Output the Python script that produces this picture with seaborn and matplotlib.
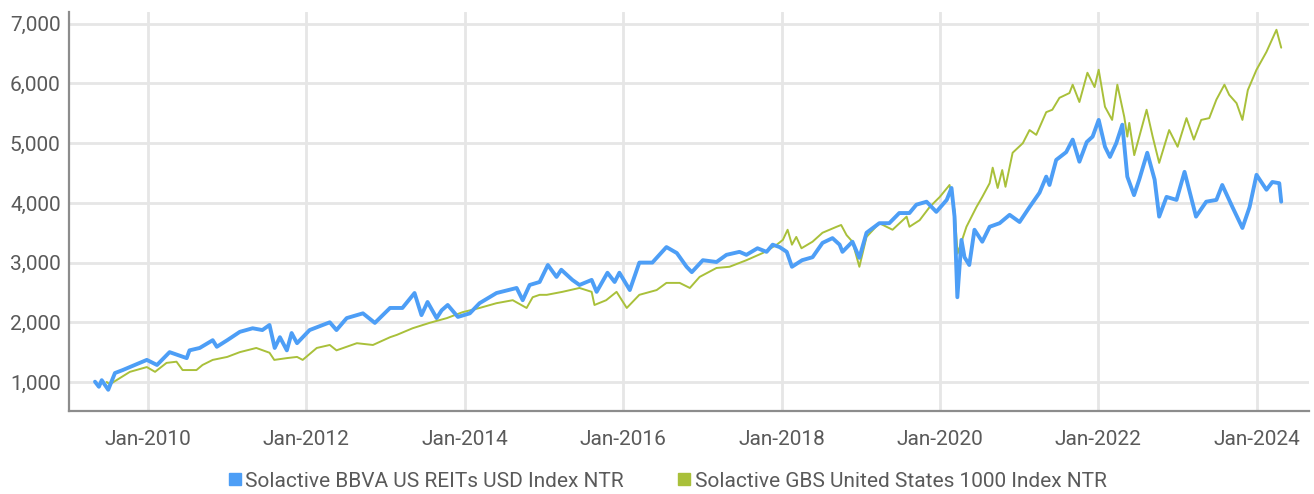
import matplotlib
matplotlib.use("Agg")
import matplotlib.pyplot as plt
import matplotlib.dates as mdates
from matplotlib.lines import Line2D
from matplotlib import font_manager as fm
import pandas as pd
import seaborn as sns

# ---- data -------------------------------------------------------------
reit_dates = [
    "2009-05-01", "2009-05-19", "2009-06-01", "2009-07-01", "2009-08-01", "2009-09-06",
    "2009-12-26", "2010-02-11", "2010-04-10", "2010-06-28", "2010-07-11", "2010-08-27",
    "2010-10-26", "2010-11-14", "2011-01-01", "2011-02-28", "2011-04-28", "2011-06-12",
    "2011-07-15", "2011-08-08", "2011-09-01", "2011-10-03", "2011-10-25", "2011-11-19",
    "2012-01-16", "2012-04-18", "2012-05-19", "2012-07-05", "2012-09-18", "2012-11-12",
    "2013-01-21", "2013-03-19", "2013-05-14", "2013-06-15", "2013-07-13", "2013-08-24",
    "2013-09-16", "2013-10-14", "2013-11-30", "2014-01-24", "2014-03-10", "2014-05-27",
    "2014-08-28", "2014-09-25", "2014-10-27", "2014-12-12", "2015-01-19", "2015-02-28",
    "2015-03-22", "2015-05-12", "2015-06-14", "2015-08-09", "2015-09-01", "2015-10-21",
    "2015-11-23", "2015-12-15", "2016-02-01", "2016-03-16", "2016-05-15", "2016-07-19",
    "2016-09-05", "2016-10-20", "2016-11-13", "2017-01-03", "2017-03-07", "2017-04-22",
    "2017-06-21", "2017-07-23", "2017-09-12", "2017-10-24", "2017-11-21", "2017-12-23",
    "2018-01-25", "2018-02-18", "2018-04-06", "2018-05-24", "2018-07-09", "2018-08-24",
    "2018-09-26", "2018-10-09", "2018-11-24", "2018-12-26", "2019-01-28", "2019-03-28",
    "2019-05-13", "2019-06-28", "2019-08-14", "2019-09-15", "2019-11-01", "2019-12-16",
    "2020-02-02", "2020-02-24", "2020-03-09", "2020-03-22", "2020-04-10", "2020-04-24",
    "2020-05-16", "2020-06-09", "2020-07-15", "2020-08-18", "2020-10-03", "2020-11-18",
    "2021-01-03", "2021-02-18", "2021-04-05", "2021-05-06", "2021-05-21", "2021-06-21",
    "2021-08-06", "2021-09-05", "2021-10-06", "2021-11-09", "2021-12-06", "2022-01-03",
    "2022-02-01", "2022-02-24", "2022-03-25", "2022-04-22", "2022-05-15", "2022-06-15",
    "2022-07-09", "2022-08-15", "2022-09-18", "2022-10-09", "2022-11-12", "2022-12-28",
    "2023-02-03", "2023-03-28", "2023-05-14", "2023-06-30", "2023-07-27", "2023-09-12",
    "2023-10-28", "2023-11-30", "2024-01-01", "2024-02-16", "2024-03-14", "2024-04-15",
    "2024-04-24",
]
reit_values = [
    1005, 920, 1030, 870, 1150, 1200,
    1370, 1285, 1500, 1400, 1530, 1570,
    1700, 1590, 1700, 1840, 1900, 1870,
    1955, 1570, 1750, 1530, 1820, 1650,
    1870, 2000, 1870, 2070, 2150, 1990,
    2240, 2240, 2490, 2120, 2340, 2070,
    2200, 2290, 2090, 2150, 2320, 2490,
    2575, 2370, 2625, 2675, 2960, 2760,
    2880, 2710, 2625, 2710, 2510, 2830,
    2675, 2830, 2540, 3000, 3000, 3260,
    3160, 2930, 2840, 3040, 3010, 3130,
    3180, 3130, 3240, 3180, 3300, 3260,
    3180, 2930, 3040, 3090, 3330, 3410,
    3300, 3180, 3350, 3080, 3500, 3660,
    3660, 3830, 3830, 3970, 4020, 3850,
    4050, 4250, 3770, 2420, 3380, 3090,
    2960, 3550, 3350, 3600, 3660, 3800,
    3680, 3930, 4170, 4440, 4300, 4720,
    4850, 5060, 4690, 5020, 5110, 5390,
    4940, 4770, 5000, 5310, 4440, 4130,
    4390, 4840, 4390, 3770, 4100, 4050,
    4520, 3770, 4020, 4050, 4300, 3930,
    3580, 3930, 4470, 4220, 4350, 4330,
    4020,
]

gbs_dates = [
    "2009-06-24", "2009-07-08", "2009-10-09", "2009-12-26", "2010-02-02", "2010-03-27",
    "2010-05-12", "2010-06-09", "2010-08-12", "2010-09-09", "2010-10-26", "2011-01-01",
    "2011-02-28", "2011-05-15", "2011-07-15", "2011-08-06", "2011-10-03", "2011-11-19",
    "2011-12-15", "2012-02-18", "2012-04-18", "2012-05-19", "2012-08-21", "2012-11-03",
    "2013-01-21", "2013-02-22", "2013-05-05", "2013-07-22", "2013-10-10", "2013-12-22",
    "2014-03-10", "2014-05-27", "2014-08-10", "2014-10-13", "2014-11-10", "2014-12-12",
    "2015-01-14", "2015-03-27", "2015-06-14", "2015-08-09", "2015-08-22", "2015-10-15",
    "2015-12-02", "2016-01-18", "2016-03-16", "2016-06-04", "2016-07-19", "2016-09-18",
    "2016-11-04", "2016-12-19", "2017-03-07", "2017-05-06", "2017-07-23", "2017-10-06",
    "2017-12-10", "2018-01-07", "2018-01-29", "2018-02-18", "2018-03-10", "2018-04-03",
    "2018-05-24", "2018-07-09", "2018-09-12", "2018-10-03", "2018-10-28", "2018-11-24",
    "2018-12-26", "2019-01-28", "2019-03-28", "2019-05-28", "2019-08-01", "2019-08-14",
    "2019-09-30", "2019-11-15", "2020-01-01", "2020-02-15", "2020-03-09", "2020-03-23",
    "2020-05-03", "2020-06-18", "2020-07-15", "2020-08-18", "2020-09-01", "2020-09-24",
    "2020-10-15", "2020-10-30", "2020-12-02", "2021-01-18", "2021-02-18", "2021-03-21",
    "2021-05-06", "2021-06-03", "2021-07-06", "2021-08-21", "2021-09-05", "2021-10-06",
    "2021-11-12", "2021-12-15", "2022-01-03", "2022-02-01", "2022-03-06", "2022-03-30",
    "2022-05-01", "2022-05-15", "2022-05-24", "2022-06-16", "2022-08-12", "2022-09-09",
    "2022-10-09", "2022-11-24", "2023-01-02", "2023-02-12", "2023-03-18", "2023-04-21",
    "2023-05-28", "2023-06-30", "2023-08-06", "2023-08-28", "2023-10-01", "2023-10-28",
    "2023-11-22", "2024-01-01", "2024-02-16", "2024-04-02", "2024-04-24",
]
gbs_values = [
    1000, 960, 1170, 1250, 1170, 1320,
    1340, 1200, 1200, 1285, 1370, 1420,
    1500, 1570, 1490, 1370, 1400, 1420,
    1370, 1570, 1620, 1530, 1650, 1620,
    1750, 1790, 1900, 1990, 2070, 2170,
    2240, 2320, 2370, 2240, 2420, 2460,
    2460, 2510, 2575, 2510, 2290, 2370,
    2510, 2240, 2460, 2540, 2660, 2660,
    2575, 2760, 2910, 2930, 3040, 3160,
    3300, 3380, 3550, 3300, 3430, 3240,
    3350, 3500, 3600, 3630, 3460, 3350,
    2930, 3430, 3660, 3550, 3770, 3600,
    3710, 3930, 4100, 4300, 3880, 3150,
    3600, 3930, 4100, 4330, 4590, 4250,
    4550, 4270, 4840, 5000, 5220, 5140,
    5520, 5560, 5760, 5840, 5980, 5690,
    6180, 5940, 6230, 5610, 5390, 5980,
    5440, 5110, 5340, 4800, 5560, 5110,
    4670, 5220, 4940, 5420, 5060, 5390,
    5420, 5730, 5980, 5810, 5670, 5390,
    5890, 6230, 6530, 6900, 6600,
]

series_names = ["Solactive BBVA US REITs USD Index NTR",
                "Solactive GBS United States 1000 Index NTR"]
y_ticks = [1000, 2000, 3000, 4000, 5000, 6000, 7000]
x_tick_years = [2010, 2012, 2014, 2016, 2018, 2020, 2022, 2024]

# ---- style ------------------------------------------------------------
BLUE = "#4d9ef6"
GREEN = "#a9c03a"
TEXT = "#5a5a5a"
GRID = "#e6e6e6"
SPINE = "#8c8c8c"

sns.set_style("white")


def pick_font(candidates):
    for name in candidates:
        try:
            fm.findfont(fm.FontProperties(family=name), fallback_to_default=False)
            return name
        except Exception:
            continue
    return "DejaVu Sans"


font = pick_font(["Roboto", "Liberation Sans Narrow", "DejaVu Sans"])
plt.rcParams["font.family"] = [font, "DejaVu Sans"]

reit = pd.DataFrame({"date": pd.to_datetime(reit_dates), "value": reit_values})
gbs = pd.DataFrame({"date": pd.to_datetime(gbs_dates), "value": gbs_values})

fig = plt.figure(figsize=(13.14, 4.94), dpi=100)
ax = fig.add_axes([0.0525, 0.168, 0.944, 0.808])

sns.lineplot(data=gbs, x="date", y="value", ax=ax, color=GREEN, linewidth=1.4, zorder=3)
sns.lineplot(data=reit, x="date", y="value", ax=ax, color=BLUE, linewidth=2.8, zorder=4)

ax.set_xlim(pd.Timestamp("2009-01-01"), pd.Timestamp("2024-09-01"))
ax.set_ylim(514, 7200)

ax.set_yticks(y_ticks)
ax.set_yticklabels([f"{v:,}" for v in y_ticks])
ax.set_xticks([pd.Timestamp(f"{y}-01-01") for y in x_tick_years])
ax.xaxis.set_major_formatter(mdates.DateFormatter("%b-%Y"))

ax.grid(True, color=GRID, linewidth=2)
ax.set_axisbelow(True)
ax.set_xlabel("")
ax.set_ylabel("")

for side in ("top", "right"):
    ax.spines[side].set_visible(False)
for side in ("left", "bottom"):
    ax.spines[side].set_color(SPINE)
    ax.spines[side].set_linewidth(1.6)

ax.tick_params(axis="both", length=0, labelsize=15, labelcolor=TEXT)
ax.tick_params(axis="x", pad=14)
ax.tick_params(axis="y", pad=6)

handles = [
    Line2D([], [], marker="s", linestyle="none", markersize=8, color=BLUE),
    Line2D([], [], marker="s", linestyle="none", markersize=8, color=GREEN),
]
fig.legend(handles, series_names, loc="center", bbox_to_anchor=(0.508, 0.026),
           ncol=2, frameon=False, fontsize=15, labelcolor=TEXT,
           handlelength=0.6, handletextpad=0.2, columnspacing=2.6)

fig.savefig("out.png", dpi=100)
